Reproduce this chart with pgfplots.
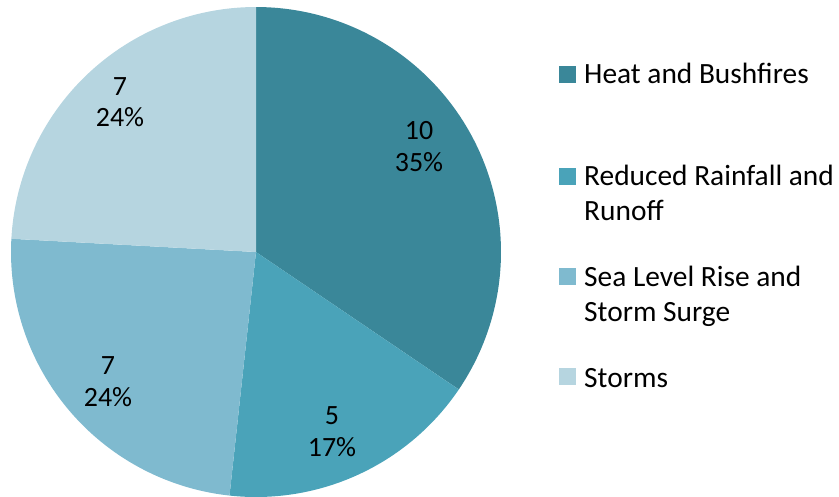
\documentclass[border=0pt]{standalone}
\usepackage{pgfplots}
\usepackage{pgfplotstable}
\pgfplotsset{compat=1.18}
\usepackage{fontspec}
\setmainfont{Carlito}
\definecolor{cHeat}{HTML}{3A8799}
\definecolor{cRed}{HTML}{4AA3B9}
\definecolor{cSea}{HTML}{7FBACF}
\definecolor{cStorm}{HTML}{B6D5E0}
\pgfplotstableread{
label value
Heat 10
Reduced 5
Sea 7
Storms 7
}\piedata
\pgfplotstablegetelem{0}{value}\of\piedata \let\vA\pgfplotsretval
\pgfplotstablegetelem{1}{value}\of\piedata \let\vB\pgfplotsretval
\pgfplotstablegetelem{2}{value}\of\piedata \let\vC\pgfplotsretval
\pgfplotstablegetelem{3}{value}\of\piedata \let\vD\pgfplotsretval
\pgfmathsetmacro\tot{\vA+\vB+\vC+\vD}
\pgfmathsetmacro\aA{90}
\pgfmathsetmacro\aB{\aA-360*\vA/\tot}
\pgfmathsetmacro\aC{\aB-360*\vB/\tot}
\pgfmathsetmacro\aD{\aC-360*\vC/\tot}
\pgfmathsetmacro\aE{\aD-360*\vD/\tot}
\def\cx{256}\def\cy{252}\def\R{245}
\newcommand{\pieslice}[3]{%
  \addplot[fill=#3, draw=none, variable=\t, samples at={-1,0,1,...,90}]
    ({\t<0 ? \cx : \cx+\R*cos(#1+(#2-#1)*\t/90)},
     {\t<0 ? \cy : \cy-\R*sin(#1+(#2-#1)*\t/90)});
}
\begin{document}
\begin{tikzpicture}
\begin{axis}[
  scale only axis, width=839bp, height=493bp,
  xmin=0, xmax=839, ymin=0, ymax=493, y dir=reverse,
  hide axis, clip=false,
]
\path (0,0) rectangle (839,493);
\pieslice{\aA}{\aB}{cHeat}
\pieslice{\aB}{\aC}{cRed}
\pieslice{\aC}{\aD}{cSea}
\pieslice{\aD}{\aE}{cStorm}
\begin{scope}[every node/.style={font=\fontsize{28}{32}\selectfont, anchor=base, inner sep=0pt}]
\node at (419,139) {10};
\node at (419,171) {35\%};
\node at (332,424) {5};
\node at (332,456) {17\%};
\node at (108,374) {7};
\node at (108,406) {24\%};
\node at (120,95) {7};
\node at (120,126) {24\%};
\end{scope}
\fill[cHeat] (559,66) rectangle (576,83);
\fill[cRed] (559,168) rectangle (576,185);
\fill[cSea] (559,268) rectangle (576,285);
\fill[cStorm] (559,368) rectangle (576,385);
\begin{scope}[every node/.style={font=\fontsize{29.5}{35}\selectfont, anchor=base west, inner sep=0pt}]
\node at (584,83) {Heat and Bushfires};
\node at (584,185) {Reduced Rainfall and};
\node at (584,220) {Runoff};
\node at (584,286) {Sea Level Rise and};
\node at (584,321) {Storm Surge};
\node at (584,387) {Storms};
\end{scope}
\end{axis}
\end{tikzpicture}
\end{document}
